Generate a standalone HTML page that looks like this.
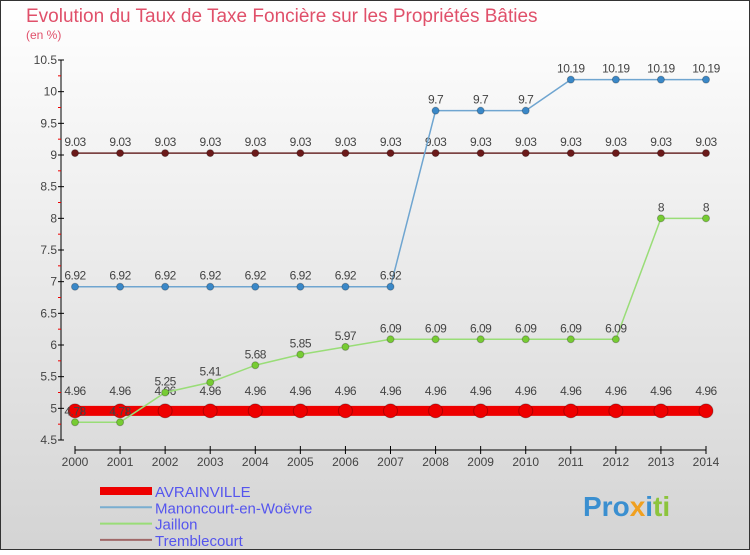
<!DOCTYPE html>
<html><head><meta charset="utf-8"><style>
body{margin:0}
#c{width:750px;height:550px;position:relative;font-family:"Liberation Sans",sans-serif;}
</style></head><body>
<div id="c">
<svg width="750" height="550" xmlns="http://www.w3.org/2000/svg" id="svg">
<defs><linearGradient id="bg" x1="0" y1="0" x2="0" y2="1"><stop offset="0" stop-color="#ffffff"/><stop offset="1" stop-color="#d4d4d4"/></linearGradient></defs>
<rect x="0.5" y="0.5" width="749" height="549" fill="url(#bg)" stroke="#333"/>
<text x="26" y="22" font-size="19" fill="#e0506a">Evolution du Taux de Taxe Foncière sur les Propriétés Bâties</text>
<text x="26" y="39" font-size="12" fill="#e0506a">(en %)</text>
<g id="axes"></g>
<g id="series"></g>
<g id="legend"></g>
<g font-size="28" font-weight="bold">
<text x="583" y="516"><tspan fill="#3a8fd0">Pro</tspan><tspan fill="#f0a020">x</tspan><tspan fill="#3a8fd0">i</tspan><tspan fill="#8cc43c">ti</tspan></text>
</g>
</svg>
</div>
<script>
const years=[2000,2001,2002,2003,2004,2005,2006,2007,2008,2009,2010,2011,2012,2013,2014];
const avrainville=[4.96,4.96,4.96,4.96,4.96,4.96,4.96,4.96,4.96,4.96,4.96,4.96,4.96,4.96,4.96];
const manoncourt=[6.92,6.92,6.92,6.92,6.92,6.92,6.92,6.92,9.7,9.7,9.7,10.19,10.19,10.19,10.19];
const jaillon=[4.78,4.78,5.25,5.41,5.68,5.85,5.97,6.09,6.09,6.09,6.09,6.09,6.09,8,8];
const tremblecourt=[9.03,9.03,9.03,9.03,9.03,9.03,9.03,9.03,9.03,9.03,9.03,9.03,9.03,9.03,9.03];
const yTicks=[4.5,5,5.5,6,6.5,7,7.5,8,8.5,9,9.5,10,10.5];
const NS="http://www.w3.org/2000/svg";
const x=i=>75+i*(706-75)/(years.length-1);
const y=v=>60+(10.5-v)*(380/6);
function mk(p,t,a){const e=document.createElementNS(NS,t);for(const k in a)e.setAttribute(k,a[k]);p.appendChild(e);return e;}
const ax=document.getElementById('axes');
let l=mk(ax,'line',{x1:61,y1:60,x2:61,y2:440,stroke:'#000'});


l=mk(ax,'line',{x1:75,y1:450,x2:706,y2:450,stroke:'#000'});


yTicks.forEach(v=>{
 const yy=y(v);
 const isLab=Math.abs(v*2-Math.round(v*2))<1e-9 && Math.abs(v-Math.round(v))<1e-9 || Math.abs(v-Math.round(v))>0.4;
 mk(ax,'line',{x1:58,y1:yy,x2:64,y2:yy,stroke:'#000'});
 const t=mk(ax,'text',{x:57,y:yy+4,'font-size':12,'text-anchor':'end',fill:'#444'});
 t.textContent=String(v);
 
 
 if(v<10.5){const m=y(v+0.25);mk(ax,'line',{x1:58,y1:m,x2:61,y2:m,stroke:'#e00'});}
});
years.forEach((yr,i)=>{
 mk(ax,'line',{x1:x(i),y1:446,x2:x(i),y2:454,stroke:'#000'});
 const t=mk(ax,'text',{x:x(i),y:466,'font-size':12,'text-anchor':'middle',fill:'#444'});
 t.textContent=yr;
 
 
});
const sg=document.getElementById('series');
function series(name,data,color,w,r,dot,labelOff){
 const g=mk(sg,'g',{});
 
 
 mk(g,'polyline',{points:data.map((v,i)=>x(i)+','+y(v)).join(' '),fill:'none',stroke:color,'stroke-width':w});
 data.forEach((v,i)=>{
  const c=mk(g,'circle',{cx:x(i),cy:y(v),r:r,fill:dot,stroke:'rgba(0,0,0,0.25)'});
  
  
  const t=mk(g,'text',{x:x(i),y:y(v)+labelOff,'font-size':12,'text-anchor':'middle',fill:'#444','letter-spacing':'-0.5'});
  t.textContent=v;
  
  
 });
}
series('tremblecourt',tremblecourt,'#6b2a2a',1.5,3.5,'#6b1a1a',-7);
series('manoncourt',manoncourt,'#6fa5d0',1.5,3.5,'#3a88c8',-7);
series('avrainville',avrainville,'#ee0000',10,7,'#ee0000',-16);
series('jaillon',jaillon,'#99dd77',1.5,3.5,'#77cc33',-7);
const lg=document.getElementById('legend');
[['AVRAINVILLE','#ee0000',8],['Manoncourt-en-Woëvre','#7aaed0',2],['Jaillon','#99dd77',2],['Tremblecourt','#a06868',2]].forEach((e,i)=>{
 const yy=491+i*16.3;
 const g=mk(lg,'g',{});
 
 
 mk(g,'line',{x1:100,y1:yy,x2:152,y2:yy,stroke:e[1],'stroke-width':e[2]});
 const t=mk(g,'text',{x:155,y:yy+6,'font-size':15,fill:'#5555ee'});
 t.textContent=e[0];
});
</script>
</body></html>
